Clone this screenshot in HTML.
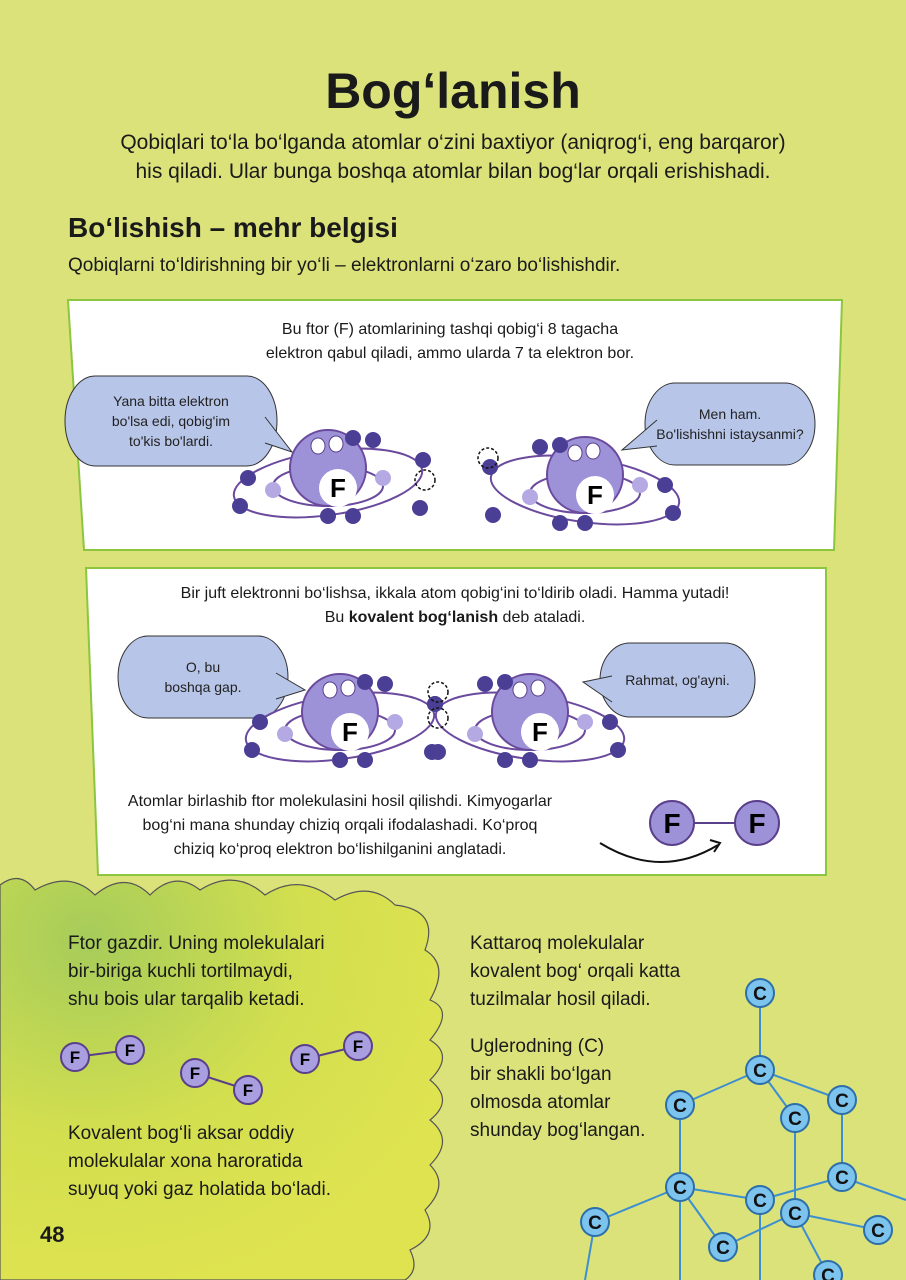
<!DOCTYPE html>
<html><head><meta charset="utf-8">
<style>
body{margin:0;width:906px;height:1280px;overflow:hidden;background:#dbe27a;font-family:"Liberation Sans",sans-serif;color:#1a1a1a;position:relative}
.t{position:absolute;margin:0}
svg{position:absolute;left:0;top:0}
</style></head><body>
<svg width="906" height="1280" id="art">
<defs>
<radialGradient id="cloudg" cx="0.2" cy="0.15" r="0.9">
<stop offset="0" stop-color="#a6cc5a"/><stop offset="0.55" stop-color="#d3df4f"/><stop offset="1" stop-color="#dfe350"/></radialGradient>
</defs>
<path d="M0,885 Q20,870 35,890 Q70,870 95,895 Q125,870 150,895 Q175,870 200,890 Q235,868 265,895 Q300,872 335,900 Q370,880 395,905 Q440,910 425,950 Q450,965 430,1000 Q455,1010 430,1040 Q455,1055 430,1080 Q455,1100 430,1120 Q455,1140 430,1165 Q450,1185 425,1210 Q440,1235 410,1250 Q420,1270 405,1280 L0,1280 Z" fill="url(#cloudg)" stroke="#555" stroke-width="1.2"/>
<polygon points="68,300 842,300 834,550 84,550" fill="#fff" stroke="#8cc63f" stroke-width="2"/>
<polygon points="86,568 826,568 826,875 98,875" fill="#fff" stroke="#8cc63f" stroke-width="2"/>
<g id="dyn"></g>
</svg>

<h1 class="t" style="left:0;width:906px;top:62px;text-align:center;font-size:50px;font-weight:bold">Bog‘lanish</h1>
<p class="t" style="left:0;width:906px;top:128px;text-align:center;font-size:21px;line-height:29px">Qobiqlari to‘la bo‘lganda atomlar o‘zini baxtiyor (aniqrog‘i, eng barqaror)<br>his qiladi. Ular bunga boshqa atomlar bilan bog‘lar orqali erishishadi.</p>
<h2 class="t" style="left:68px;top:212px;font-size:28px;font-weight:bold">Bo‘lishish – mehr belgisi</h2>
<p class="t" style="left:68px;top:255px;font-size:19px">Qobiqlarni to‘ldirishning bir yo‘li – elektronlarni o‘zaro bo‘lishishdir.</p>
<p class="t" style="left:200px;width:500px;top:318px;text-align:center;font-size:16px;line-height:24px">Bu ftor (F) atomlarining tashqi qobig‘i 8 tagacha<br>elektron qabul qiladi, ammo ularda 7 ta elektron bor.</p>
<p class="t" style="left:100px;width:710px;top:582px;text-align:center;font-size:16px;line-height:24px">Bir juft elektronni bo‘lishsa, ikkala atom qobig‘ini to‘ldirib oladi. Hamma yutadi!<br>Bu <b>kovalent bog‘lanish</b> deb ataladi.</p>
<p class="t" style="left:110px;width:460px;top:790px;text-align:center;font-size:16px;line-height:24px">Atomlar birlashib ftor molekulasini hosil qilishdi. Kimyogarlar<br>bog‘ni mana shunday chiziq orqali ifodalashadi. Ko‘proq<br>chiziq ko‘proq elektron bo‘lishilganini anglatadi.</p>
<p class="t" style="left:68px;top:930px;font-size:19px;line-height:28px">Ftor gazdir. Uning molekulalari<br>bir-biriga kuchli tortilmaydi,<br>shu bois ular tarqalib ketadi.</p>
<p class="t" style="left:68px;top:1120px;font-size:19px;line-height:28px">Kovalent bog‘li aksar oddiy<br>molekulalar xona haroratida<br>suyuq yoki gaz holatida bo‘ladi.</p>
<p class="t" style="left:470px;top:930px;font-size:19px;line-height:28px">Kattaroq molekulalar<br>kovalent bog‘ orqali katta<br>tuzilmalar hosil qiladi.</p>
<p class="t" style="left:470px;top:1033px;font-size:19px;line-height:28px">Uglerodning (C)<br>bir shakli bo‘lgan<br>olmosda atomlar<br>shunday bog‘langan.</p>
<p class="t" style="left:40px;top:1222px;font-size:22px;font-weight:bold">48</p>

<script>
const NS="http://www.w3.org/2000/svg";
const g=document.getElementById('dyn');
function mk(tag,a,parent){const e=document.createElementNS(NS,tag);for(const k in a)e.setAttribute(k,a[k]);(parent||g).appendChild(e);return e;}
// speech bubbles
const bubbles=[[65,376,212,90,292,452,"Yana bitta elektron|bo'lsa edi, qobig'im|to'kis bo'lardi."],[645,383,170,82,622,450,"Men ham.|Bo'lishishni istaysanmi?"],[118,636,170,82,305,690,"O, bu|boshqa gap."],[600,643,155,74,583,682,"Rahmat, og'ayni."]];
bubbles.forEach(b=>{
 const[x,y,w,h,tx,ty,txt]=b;
 const grp=mk('g',{});
 
 
 const cx=x+w/2,cy=y+h/2;
 mk('path',{d:`M${x+30},${y} H${x+w-30} A30,${h/2} 0 0 1 ${x+w-30},${y+h} H${x+30} A30,${h/2} 0 0 1 ${x+30},${y} Z`,fill:'#b7c5e8',stroke:'#333','stroke-width':1},grp);
 const bx=tx<cx?x+12:x+w-12;
 mk('path',{d:`M${bx},${cy-4} L${tx},${ty} L${bx},${cy+22}`,fill:'#b7c5e8',stroke:'#333','stroke-width':1},grp);
 const lines=txt.split('|');
 lines.forEach((l,i)=>{const t=mk('text',{x:cx,y:cy+5+(i-(lines.length-1)/2)*20,'text-anchor':'middle','font-size':14,'font-family':'Liberation Sans, sans-serif',fill:'#222'},grp);t.textContent=l;});
});
// atoms
const atoms=[[328,468,-8],[585,475,8],[340,712,-8],[530,712,8]];
atoms.forEach((a,i)=>{
 const[x,y,rot]=a;const grp=mk('g',{});
 
 
 mk('ellipse',{cx:x,cy:y+15,rx:95,ry:32,fill:'none',stroke:'#6b4a9e','stroke-width':2,transform:`rotate(${rot} ${x} ${y+15})`},grp);
 mk('ellipse',{cx:x,cy:y+18,rx:55,ry:20,fill:'none',stroke:'#6b4a9e','stroke-width':2},grp);
 mk('circle',{cx:x,cy:y,r:38,fill:'#9d92d8',stroke:'#6b4a9e','stroke-width':2},grp);
 mk('circle',{cx:x+10,cy:y+20,r:19,fill:'#fff'},grp);
 const t=mk('text',{x:x+10,y:y+29,'text-anchor':'middle','font-size':26,'font-weight':'bold',fill:'#000'},grp);t.textContent='F';
 mk('ellipse',{cx:x-10,cy:y-22,rx:7,ry:8,fill:'#fff',stroke:'#5a3f8a'},grp);
 mk('ellipse',{cx:x+8,cy:y-24,rx:7,ry:8,fill:'#fff',stroke:'#5a3f8a'},grp);
 [[-55,22],[55,10]].forEach(p=>mk('circle',{cx:x+p[0],cy:y+p[1],r:8,fill:'#b4a9e2'},grp));
 [[-80,10],[-88,38],[0,48],[25,48],[45,-28],[25,-30],[95,-8],[92,40]].forEach(p=>mk('circle',{cx:x+p[0]*(i%2?-1:1),cy:y+p[1],r:8,fill:'#4b3f95'},grp));
});
[[425,480],[488,458],[438,692],[438,718]].forEach(p=>mk('circle',{cx:p[0],cy:p[1],r:10,fill:'none',stroke:'#111','stroke-dasharray':'3,2','stroke-width':1.5}));
// F—F diagram
mk('line',{x1:672,y1:823,x2:757,y2:823,stroke:'#5a3f8a','stroke-width':2});
[672,757].forEach(x=>{mk('circle',{cx:x,cy:823,r:22,fill:'#9d92d8',stroke:'#5a3f8a','stroke-width':2});const t=mk('text',{x:x,y:833,'text-anchor':'middle','font-size':28,'font-weight':'bold'});t.textContent='F';});
mk('path',{d:'M600,843 Q660,880 718,845',fill:'none',stroke:'#111','stroke-width':2});
mk('path',{d:'M710,840 L720,843 L714,852',fill:'none',stroke:'#111','stroke-width':2});
// small F2 molecules
const mols=[[75,1057,130,1050],[195,1073,248,1090],[305,1059,358,1046]];
mols.forEach(m=>{
 mk('line',{x1:m[0],y1:m[1],x2:m[2],y2:m[3],stroke:'#5a3f8a','stroke-width':2});
 [[m[0],m[1]],[m[2],m[3]]].forEach(p=>{mk('circle',{cx:p[0],cy:p[1],r:14,fill:'#a99ee0',stroke:'#5a3f8a','stroke-width':2});const t=mk('text',{x:p[0],y:p[1]+6,'text-anchor':'middle','font-size':17,'font-weight':'bold'});t.textContent='F';});
});
// carbon lattice
const cNodes=[[760,993],[760,1070],[680,1105],[795,1118],[842,1100],[842,1177],[680,1187],[760,1200],[795,1213],[878,1230],[723,1247],[595,1222],[828,1275]];
const cEdges=[[0,1],[1,2],[1,3],[1,4],[2,6],[3,8],[4,5],[6,7],[7,5],[6,11],[8,9],[8,10],[6,10],[8,12]];
cEdges.forEach(e=>mk('line',{x1:cNodes[e[0]][0],y1:cNodes[e[0]][1],x2:cNodes[e[1]][0],y2:cNodes[e[1]][1],stroke:'#3d8fd0','stroke-width':2}));
mk('line',{x1:760,y1:1200,x2:760,y2:1280,stroke:'#3d8fd0','stroke-width':2});
mk('line',{x1:842,y1:1177,x2:906,y2:1200,stroke:'#3d8fd0','stroke-width':2});
mk('line',{x1:595,y1:1222,x2:585,y2:1280,stroke:'#3d8fd0','stroke-width':2});
mk('line',{x1:680,y1:1187,x2:680,y2:1280,stroke:'#3d8fd0','stroke-width':2});
cNodes.forEach(n=>{const c=mk('circle',{cx:n[0],cy:n[1],r:14,fill:'#7cc3ee',stroke:'#2d6fa8','stroke-width':2});
 
 
 const t=mk('text',{x:n[0],y:n[1]+7,'text-anchor':'middle','font-size':19,'font-weight':'bold',fill:'#111'});t.textContent='C';});
</script>
</body></html>
